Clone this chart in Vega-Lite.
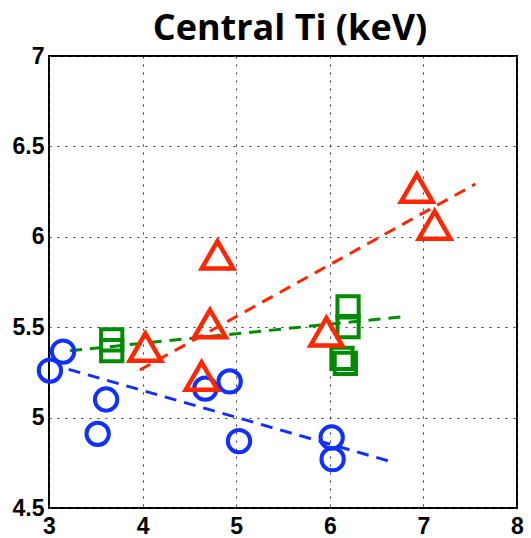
{
  "$schema": "https://vega.github.io/schema/vega-lite/v6.json",
  "width": 468,
  "height": 452,
  "autosize": "none",
  "padding": {"left": 49, "top": 56, "right": 14, "bottom": 30},
  "background": "white",
  "title": {"text": "Central Ti (keV)", "font": "Open Sans", "fontSize": 36, "fontWeight": "bold", "color": "black", "anchor": "middle", "frame": "group", "offset": 9, "baseline": "bottom", "dy": 48, "dx": 7},
  "config": {
    "view": {"stroke": "black", "strokeWidth": 2},
    "axis": {
      "labelFont": "Liberation Sans", "labelFontSize": 23, "labelFontWeight": "bold", "labelColor": "black",
      "ticks": false, "domain": false, "title": null, "grid": true,
      "gridColor": "#333", "gridDash": [2, 6], "gridWidth": 1, "gridOpacity": 1,
      "labelFlush": false, "labelOverlap": false, "format": "~g"
    }
  },
  "datasets": {
    "points": [
      {"series": "circle", "x": 3.01, "y": 5.26},
      {"series": "circle", "x": 3.15, "y": 5.365},
      {"series": "circle", "x": 3.52, "y": 4.91},
      {"series": "circle", "x": 3.61, "y": 5.10},
      {"series": "circle", "x": 4.67, "y": 5.16},
      {"series": "circle", "x": 4.93, "y": 5.20},
      {"series": "circle", "x": 5.03, "y": 4.87},
      {"series": "circle", "x": 6.02, "y": 4.89},
      {"series": "circle", "x": 6.03, "y": 4.77},
      {"series": "square", "x": 3.67, "y": 5.43},
      {"series": "square", "x": 3.67, "y": 5.37},
      {"series": "square", "x": 6.195, "y": 5.613},
      {"series": "square", "x": 6.195, "y": 5.503},
      {"series": "square", "x": 6.13, "y": 5.328},
      {"series": "square", "x": 6.166, "y": 5.30},
      {"series": "triangle", "x": 4.03, "y": 5.39},
      {"series": "triangle", "x": 4.63, "y": 5.23},
      {"series": "triangle", "x": 4.72, "y": 5.52},
      {"series": "triangle", "x": 4.80, "y": 5.90},
      {"series": "triangle", "x": 5.963, "y": 5.475},
      {"series": "triangle", "x": 6.93, "y": 6.27},
      {"series": "triangle", "x": 7.12, "y": 6.065}
    ],
    "fits": [
      {"series": "circle", "x": 3.21, "y": 5.267},
      {"series": "circle", "x": 6.63, "y": 4.76},
      {"series": "square", "x": 3.225, "y": 5.37},
      {"series": "square", "x": 6.78, "y": 5.558},
      {"series": "triangle", "x": 3.97, "y": 5.263},
      {"series": "triangle", "x": 7.556, "y": 6.292}
    ]
  },
  "encoding": {
    "x": {"field": "x", "type": "quantitative", "scale": {"domain": [3, 8], "nice": false, "zero": false}, "axis": {"values": [3, 4, 5, 6, 7, 8], "labelPadding": 7}},
    "y": {"field": "y", "type": "quantitative", "scale": {"domain": [4.5, 7], "nice": false, "zero": false}, "axis": {"values": [4.5, 5, 5.5, 6, 6.5, 7], "labelPadding": 5}},
    "color": {"field": "series", "type": "nominal", "scale": {"domain": ["circle", "square", "triangle"], "range": ["#1030ff", "#008c00", "#ff2600"]}, "legend": null}
  },
  "layer": [
    {
      "data": {"name": "fits"},
      "mark": {"type": "line", "strokeDash": [12, 8], "strokeWidth": 3}
    },
    {
      "data": {"name": "points"},
      "transform": [{"filter": "datum.series === 'circle'"}],
      "mark": {"type": "point", "shape": "circle", "size": 500, "filled": false, "strokeWidth": 4, "opacity": 1}
    },
    {
      "data": {"name": "points"},
      "transform": [{"filter": "datum.series === 'square'"}],
      "mark": {"type": "point", "shape": "square", "size": 450, "filled": false, "strokeWidth": 4, "opacity": 1}
    },
    {
      "data": {"name": "points"},
      "transform": [{"filter": "datum.series === 'triangle'"}],
      "mark": {"type": "point", "shape": "triangle-up", "size": 1000, "filled": false, "strokeWidth": 4.5, "opacity": 1}
    }
  ]
}
